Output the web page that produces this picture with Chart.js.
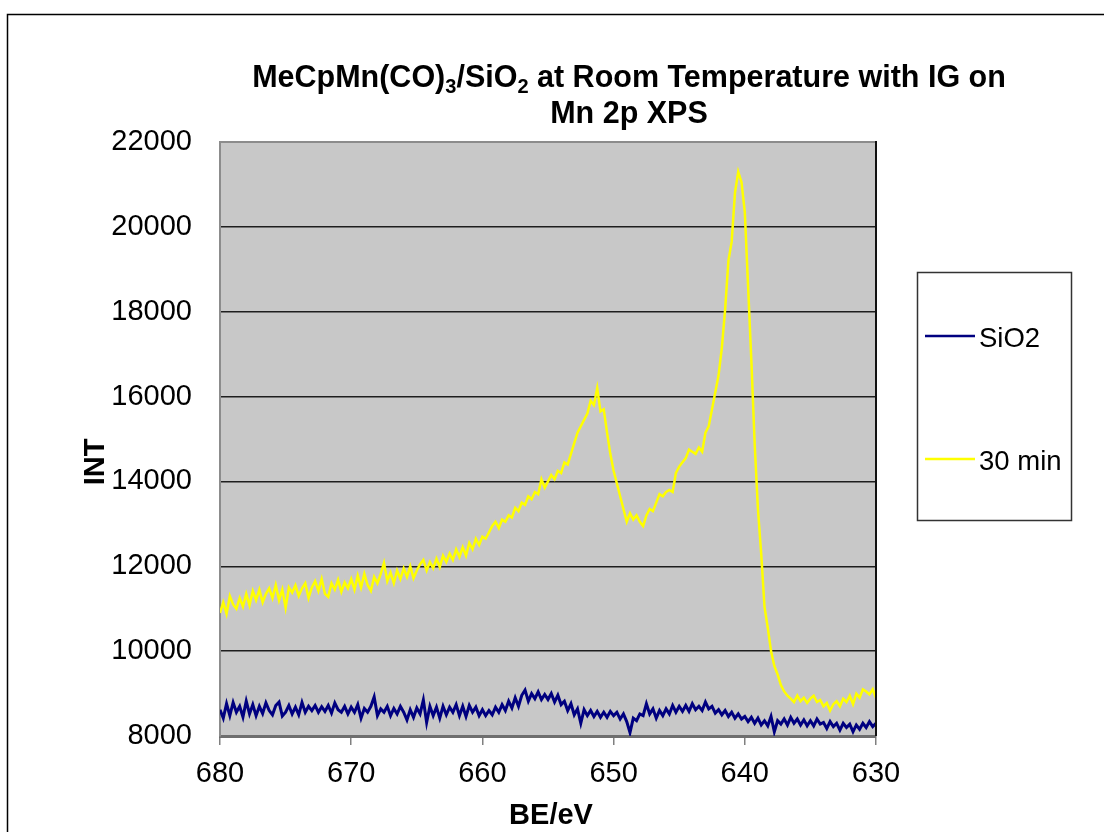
<!DOCTYPE html>
<html><head><meta charset="utf-8">
<script src="https://cdn.jsdelivr.net/npm/chart.js@4/dist/chart.umd.min.js"></script>
<style>html,body{margin:0;padding:0;background:#fff;}#wrap{width:1104px;height:832px;}</style>
</head><body><div id="wrap"><canvas id="c" width="1104" height="832"></canvas></div>
<script>
// Binding energy (eV)
const energies = [
680,679.75,679.5,679.25,679,678.75,678.5,678.25,678,677.75,677.5,677.25,677,676.75,676.5,676.25,676,675.75,675.5,675.25,
675,674.75,674.5,674.25,674,673.75,673.5,673.25,673,672.75,672.5,672.25,672,671.75,671.5,671.25,671,670.75,670.5,670.25,
670,669.75,669.5,669.25,669,668.75,668.5,668.25,668,667.75,667.5,667.25,667,666.75,666.5,666.25,666,665.75,665.5,665.25,
665,664.75,664.5,664.25,664,663.75,663.5,663.25,663,662.75,662.5,662.25,662,661.75,661.5,661.25,661,660.75,660.5,660.25,
660,659.75,659.5,659.25,659,658.75,658.5,658.25,658,657.75,657.5,657.25,657,656.75,656.5,656.25,656,655.75,655.5,655.25,
655,654.75,654.5,654.25,654,653.75,653.5,653.25,653,652.75,652.5,652.25,652,651.75,651.5,651.25,651,650.75,650.5,650.25,
650,649.75,649.5,649.25,649,648.75,648.5,648.25,648,647.75,647.5,647.25,647,646.75,646.5,646.25,646,645.75,645.5,645.25,
645,644.75,644.5,644.25,644,643.75,643.5,643.25,643,642.75,642.5,642.25,642,641.75,641.5,641.25,641,640.75,640.5,640.25,
640,639.75,639.5,639.25,639,638.75,638.5,638.25,638,637.75,637.5,637.25,637,636.75,636.5,636.25,636,635.75,635.5,635.25,
635,634.75,634.5,634.25,634,633.75,633.5,633.25,633,632.75,632.5,632.25,632,631.75,631.5,631.25,631,630.75,630.5,630.25,
630];

// SiO2 intensity
const sio2 = [
8620,8420,8760,8480,8790,8560,8700,8450,8820,8520,8740,8480,8700,8530,8780,8600,8500,8720,8800,8470,
8560,8720,8520,8680,8500,8790,8560,8700,8600,8720,8560,8690,8580,8720,8540,8780,8620,8560,8700,8520,
8680,8560,8740,8420,8650,8560,8700,8920,8480,8640,8560,8700,8480,8650,8520,8700,8560,8380,8620,8440,
8660,8520,8850,8320,8700,8480,8680,8420,8700,8500,8680,8560,8740,8480,8700,8460,8720,8560,8680,8480,
8620,8480,8600,8500,8680,8560,8740,8600,8820,8660,8900,8700,8960,9080,8820,9000,8880,9040,8860,8980,
8860,9000,8800,8960,8740,8820,8600,8760,8500,8640,8300,8620,8480,8600,8460,8580,8440,8560,8440,8580,
8480,8560,8400,8520,8340,8080,8420,8360,8520,8480,8760,8520,8640,8420,8600,8480,8640,8520,8720,8560,
8700,8580,8720,8580,8760,8620,8700,8600,8800,8640,8700,8540,8620,8500,8600,8460,8560,8420,8520,8400,
8460,8340,8440,8300,8420,8260,8360,8240,8460,8100,8360,8280,8400,8260,8440,8300,8400,8260,8380,8240,
8360,8240,8400,8280,8320,8180,8340,8220,8300,8140,8300,8200,8280,8100,8260,8160,8300,8200,8340,8220,
8300];

// 30 min intensity
const min30 = [
10900,11150,10880,11300,11100,11000,11250,11050,11350,11080,11420,11200,11450,11150,11350,11480,11250,11560,11200,11450,
11020,11500,11380,11550,11300,11480,11600,11250,11500,11650,11420,11700,11350,11280,11600,11450,11680,11400,11620,11480,
11700,11450,11780,11500,11820,11560,11420,11750,11600,11820,12080,11650,11850,11600,11900,11700,11950,11750,12000,11720,
11900,12050,12150,11900,12100,11950,12180,11980,12250,12100,12300,12150,12400,12220,12450,12250,12550,12400,12650,12500,
12700,12650,12800,12950,13050,12900,13100,13050,13200,13150,13380,13300,13500,13450,13650,13580,13750,13700,14050,13850,
14000,14150,14050,14250,14200,14450,14400,14650,14900,15150,15300,15450,15600,15900,15800,16200,15650,15700,15150,14650,
14250,13950,13650,13350,13050,13250,13100,13200,13050,12950,13200,13350,13300,13500,13700,13650,13750,13800,13750,14200,
14350,14450,14550,14750,14700,14650,14800,14700,15150,15300,15700,16100,16500,17150,18050,19200,19650,20800,21300,21050,
20350,18600,16850,14900,13350,12300,11050,10550,10000,9650,9450,9200,9050,8950,8880,8800,8950,8820,8900,8780,
8880,8950,8800,8850,8700,8780,8600,8750,8820,8700,8880,8800,8950,8750,9000,8900,9100,9050,8980,9100,
8900];

const seriesLabels = ['SiO2', '30 min'];
const xTicks = [680, 670, 660, 650, 640, 630];
const yTicks = [8000, 10000, 12000, 14000, 16000, 18000, 20000, 22000];
const titleLine1 = [['MeCpMn(CO)', 0], ['3', 1], ['/SiO', 0], ['2', 1], [' at Room Temperature with IG on', 0]];
const titleLine2 = 'Mn 2p XPS';
const xTitle = 'BE/eV';
const yTitle = 'INT';

const FONT = "'Liberation Sans', Arial, sans-serif";

function pts(vals) { return energies.map((e, i) => ({ x: e, y: vals[i] })); }

const decor = {
  id: 'decor',
  beforeDraw(chart) {
    const { ctx, chartArea: a } = chart;
    ctx.save();
    ctx.fillStyle = '#ffffff';
    ctx.fillRect(0, 0, chart.width, chart.height);
    ctx.fillStyle = '#c8c8c8';
    ctx.fillRect(a.left, a.top, a.right - a.left, a.bottom - a.top);
    ctx.restore();
  },
  afterDraw(chart) {
    const { ctx, chartArea: a } = chart;
    ctx.save();
    ctx.strokeStyle = '#000';
    ctx.lineWidth = 1.5;
    ctx.strokeRect(7.5, 14.5, 1300, 1000);
    ctx.strokeStyle = '#8c8c8c';
    ctx.lineWidth = 2;
    ctx.beginPath(); ctx.moveTo(a.left, a.top); ctx.lineTo(a.right, a.top); ctx.stroke();
    ctx.strokeStyle = '#111';
    ctx.beginPath(); ctx.moveTo(a.right, a.top - 1); ctx.lineTo(a.right, a.bottom); ctx.stroke();

    ctx.fillStyle = '#000';
    ctx.textBaseline = 'alphabetic';
    const big = 'bold 30.5px ' + FONT, small = 'bold 20px ' + FONT;
    let total = 0;
    titleLine1.forEach(([t, sub]) => { ctx.font = sub ? small : big; total += ctx.measureText(t).width; });
    let x = 629 - total / 2;
    ctx.textAlign = 'left';
    titleLine1.forEach(([t, sub]) => {
      ctx.font = sub ? small : big;
      ctx.fillText(t, x, sub ? 93 : 87);
      x += ctx.measureText(t).width;
    });
    ctx.font = big;
    ctx.textAlign = 'center';
    ctx.fillText(titleLine2, 629, 123);

    ctx.font = 'bold 29px ' + FONT;
    ctx.textBaseline = 'middle';
    ctx.fillText(xTitle, 551, 816);
    ctx.save();
    ctx.translate(96, 462);
    ctx.rotate(-Math.PI / 2);
    ctx.fillText(yTitle, 0, 0);
    ctx.restore();

    ctx.fillStyle = '#fff';
    ctx.fillRect(917, 272, 154, 248);
    ctx.strokeStyle = '#333';
    ctx.lineWidth = 1.5;
    ctx.strokeRect(917.5, 272.5, 154, 248);
    const ys = [336, 459];
    chart.data.datasets.forEach((ds, i) => {
      ctx.strokeStyle = ds.borderColor;
      ctx.lineWidth = 2.5;
      ctx.beginPath(); ctx.moveTo(925, ys[i]); ctx.lineTo(975, ys[i]); ctx.stroke();
      ctx.fillStyle = '#000';
      ctx.font = '27.5px ' + FONT;
      ctx.textAlign = 'left';
      ctx.textBaseline = 'middle';
      ctx.fillText(ds.label, 979, ys[i] + 3);
    });
    ctx.restore();
  }
};

new Chart(document.getElementById('c'), {
  type: 'line',
  data: {
    datasets: [
      { label: seriesLabels[0], data: pts(sio2), borderColor: '#000080', borderWidth: 3, pointRadius: 0, tension: 0, fill: false },
      { label: seriesLabels[1], data: pts(min30), borderColor: '#ffff00', borderWidth: 2.5, pointRadius: 0, tension: 0, fill: false }
    ]
  },
  options: {
    responsive: false,
    animation: false,
    devicePixelRatio: 1,
    layout: { padding: { top: 142, right: 228, left: 0, bottom: 0 } },
    plugins: { legend: { display: false }, title: { display: false }, tooltip: { enabled: false } },
    scales: {
      x: {
        type: 'linear', reverse: true, min: 630, max: 680,
        afterFit(s) { s.height = 96; },
        afterBuildTicks(s) { s.ticks = xTicks.map(v => ({ value: v })); },
        ticks: { color: '#000', font: { family: FONT, size: 29 }, padding: 12, maxRotation: 0, callback: v => String(v) },
        grid: { drawOnChartArea: false, drawTicks: true, tickLength: 9, color: '#808080', lineWidth: 1.5 },
        border: { color: '#6e6e6e', width: 3 }
      },
      y: {
        min: 8000, max: 22000,
        afterFit(s) { s.width = 220; },
        afterBuildTicks(s) { s.ticks = yTicks.map(v => ({ value: v })); },
        ticks: { color: '#000', font: { family: FONT, size: 29 }, padding: 28, callback: v => String(v) },
        grid: {
          drawTicks: false, lineWidth: 1.5,
          color: c => (c.tick && (c.tick.value === 22000 || c.tick.value === 8000)) ? 'rgba(0,0,0,0)' : '#1e1e1e'
        },
        border: { color: '#8c8c8c', width: 2 }
      }
    }
  },
  plugins: [decor]
});
</script>
</body></html>
